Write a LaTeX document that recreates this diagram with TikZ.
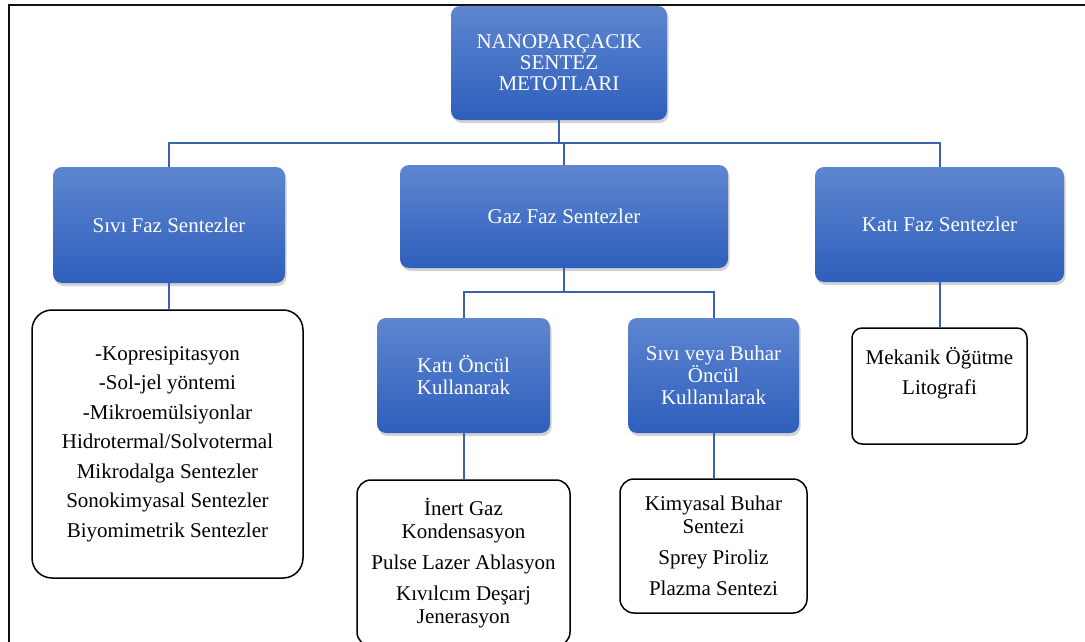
\documentclass[tikz,border=0pt]{standalone}
\usepackage{fontspec}
\setmainfont{Liberation Serif}
\newfontfamily\sentezfont{Liberation Serif}
\usetikzlibrary{shadows}
\definecolor{SentezTop}{HTML}{5E86D0}
\definecolor{SentezBottom}{HTML}{2E5FBC}
\definecolor{SentezLine}{HTML}{3B62AE}
\definecolor{SentezFrame}{HTML}{111111}

\begin{document}
\begin{tikzpicture}[x=1pt,y=-1pt,
    bluebox/.style={rectangle,rounded corners=9pt,top color=SentezTop,bottom color=SentezBottom,
      text=white,align=center,inner sep=0pt,font=\sentezfont\fontsize{21}{22}\selectfont,
      drop shadow={opacity=0.35,shadow xshift=1.5pt,shadow yshift=-3pt}},
    listbox/.style={rectangle,rounded corners=14pt,draw=black,line width=1.5pt,fill=white,
      align=center,inner sep=0pt,font=\sentezfont\fontsize{21}{23}\selectfont},
    conn/.style={SentezLine,line width=2pt}]
    \useasboundingbox (0,0) rectangle (1085,642);
    \draw[SentezFrame,line width=1.6pt] (9,642) -- (9,5) -- (1085,5);

    \node[bluebox,minimum width=216,minimum height=114] (baslik) at (559,63)
      {NANOPARÇACIK\\[-1pt] SENTEZ\\[-1pt] METOTLARI};
    \node[bluebox,minimum width=232,minimum height=116] (sivi) at (169,225) {Sıvı Faz Sentezler};
    \node[bluebox,minimum width=328,minimum height=103] (gaz) at (564,216.5) {Gaz Faz Sentezler};
    \node[bluebox,minimum width=249,minimum height=115] (kati) at (939.5,224.5) {Katı Faz Sentezler};
    \node[bluebox,minimum width=173,minimum height=115] (kationcul) at (463.5,375.5)
      {Katı Öncül\\ Kullanarak};
    \node[bluebox,minimum width=171,minimum height=115] (sivioncul) at (713.5,375.5)
      {Sıvı veya Buhar\\ Öncül\\ Kullanılarak};

    \node[listbox,rounded corners=20pt,minimum width=271,minimum height=268] (sivilist) at (167.5,444)
      {-Kopresipitasyon\\[6.5pt] -Sol-jel yöntemi\\[6.5pt] -Mikroemülsiyonlar\\[6.5pt]
       Hidrotermal/Solvotermal\\[6.5pt] Mikrodalga Sentezler\\[6.5pt]
       Sonokimyasal Sentezler\\[6.5pt] Biyomimetrik Sentezler};
    \node[listbox,rounded corners=10pt,minimum width=175,minimum height=116] (mekanik) at (939.5,386)
      {Mekanik Öğütme\\[7pt] Litografi\\[7pt] \mbox{}};
    \node[listbox,minimum width=213,minimum height=166] (inert) at (463.5,563)
      {İnert Gaz\\ Kondensasyon\\[8pt] Pulse Lazer Ablasyon\\[8pt] Kıvılcım Deşarj\\ Jenerasyon};
    \node[listbox,minimum width=187,minimum height=134] (kimyasal) at (713.5,546)
      {Kimyasal Buhar\\ Sentezi\\[8pt] Sprey Piroliz\\[8pt] Plazma Sentezi};

    \coordinate (bus) at (559,143);
    \draw[conn] (baslik.south) -- (bus);
    \draw[conn] (sivi.north) |- (bus) -| (kati.north);
    \draw[conn] (gaz.north) -- (gaz.north |- bus);
    \coordinate (gazbus) at (564,292);
    \draw[conn] (gaz.south) -- (gazbus);
    \draw[conn] (kationcul.north) |- (gazbus) -| (sivioncul.north);
    \draw[conn] (sivi.south) -- (sivi.south |- sivilist.north);
    \draw[conn] (kati.south) -- (mekanik.north);
    \draw[conn] (kationcul.south) -- (inert.north);
    \draw[conn] (sivioncul.south) -- (kimyasal.north);
  \end{tikzpicture}
\end{document}
